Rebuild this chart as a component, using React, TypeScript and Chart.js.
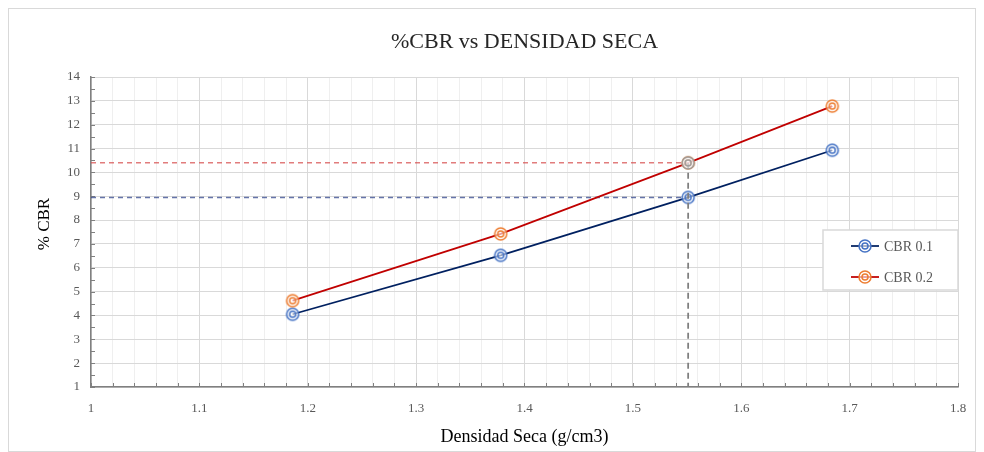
import React, { useEffect, useRef } from "react";
import { Chart, registerables } from "chart.js";

Chart.register(...registerables);

const density = [1.186, 1.378, 1.551, 1.684];
const cbr01 = [4.05, 6.52, 8.95, 10.93];
const cbr02 = [4.62, 7.42, 10.4, 12.78];
const refDensity = 1.551;
const refCbr01 = 8.95;
const refCbr02 = 10.4;
const seriesNames = ["CBR 0.1", "CBR 0.2"];
const titleText = "%CBR vs DENSIDAD SECA";
const xTitle = "Densidad Seca (g/cm3)";
const yTitle = "% CBR";
const xMin = 1, xMax = 1.8, xStep = 0.02;
const yMin = 1, yMax = 14;

const FONT = "'Liberation Serif', 'Times New Roman', serif";
const BLUE_LINE = "#002060";
const BLUE_MARK = "#4472c4";
const RED_LINE = "#c00000";
const ORANGE_MARK = "#ed7d31";
const GRAY_MARK = "#9a9a9a";

function makeMarker(color: string) {
  const c = document.createElement("canvas");
  c.width = 16;
  c.height = 16;
  const g = c.getContext("2d")!;
  g.strokeStyle = color;
  g.lineWidth = 1.5;
  g.fillStyle = "rgba(255,255,255,0.6)";
  g.beginPath();
  g.arc(8, 8, 6, 0, Math.PI * 2);
  g.fill();
  g.stroke();
  g.beginPath();
  g.arc(8, 8, 3, 0, Math.PI * 2);
  g.stroke();
  return c;
}

const isMajor = (v: number) => Math.abs(v * 10 - Math.round(v * 10)) < 1e-6;

export default function App() {
  const ref = useRef<HTMLCanvasElement | null>(null);
  useEffect(() => {
    const blueM = makeMarker(BLUE_MARK);
    const orangeM = makeMarker(ORANGE_MARK);
    const grayM = makeMarker(GRAY_MARK);

    const decor = {
      id: "decor",
      beforeDatasetsDraw(chart: any) {
        const { ctx, chartArea: a, scales } = chart;
        ctx.save();
        ctx.strokeStyle = "#808080";
        ctx.lineWidth = 1;
        const nx = Math.round((xMax - xMin) / xStep);
        for (let i = 0; i <= nx; i++) {
          const px = Math.round(scales.x.getPixelForValue(xMin + i * xStep)) + 0.5;
          ctx.beginPath();
          ctx.moveTo(px, a.bottom);
          ctx.lineTo(px, a.bottom - 4);
          ctx.stroke();
        }
        const ny = (yMax - yMin) * 2;
        for (let i = 0; i <= ny; i++) {
          const py = Math.round(scales.y.getPixelForValue(yMin + i * 0.5)) + 0.5;
          ctx.beginPath();
          ctx.moveTo(a.left, py);
          ctx.lineTo(a.left + 4, py);
          ctx.stroke();
        }
        ctx.restore();
      },
      afterDraw(chart: any) {
        const { ctx, chartArea: a } = chart;
        ctx.save();
        ctx.fillStyle = "#262626";
        ctx.font = `22px ${FONT}`;
        ctx.textAlign = "center";
        ctx.textBaseline = "middle";
        ctx.fillText(titleText, (a.left + a.right) / 2, 33);
        ctx.fillStyle = "#000";
        ctx.font = `18px ${FONT}`;
        ctx.fillText(xTitle, (a.left + a.right) / 2, 428);
        ctx.save();
        ctx.translate(36, 215);
        ctx.rotate(-Math.PI / 2);
        ctx.font = `17px ${FONT}`;
        ctx.fillText(yTitle, 0, 0);
        ctx.restore();
        const lx = a.right - 135;
        const ly = a.top + 153;
        ctx.fillStyle = "#fff";
        ctx.fillRect(lx, ly, 135, 60);
        ctx.strokeStyle = "#d9d9d9";
        ctx.lineWidth = 1.5;
        ctx.strokeRect(lx, ly, 135, 60);
        const items = [
          { name: seriesNames[0], line: BLUE_LINE, m: blueM, y: ly + 16 },
          { name: seriesNames[1], line: RED_LINE, m: orangeM, y: ly + 47 },
        ];
        items.forEach((it) => {
          ctx.strokeStyle = it.line;
          ctx.lineWidth = 1.75;
          ctx.beginPath();
          ctx.moveTo(lx + 28, it.y);
          ctx.lineTo(lx + 56, it.y);
          ctx.stroke();
          ctx.drawImage(it.m, lx + 42 - 8, it.y - 8);
          ctx.fillStyle = "#595959";
          ctx.font = `14px ${FONT}`;
          ctx.textAlign = "left";
          ctx.textBaseline = "middle";
          ctx.fillText(it.name, lx + 61, it.y + 1);
        });
        ctx.restore();
      },
    };

    const chart = new Chart(ref.current!, {
      type: "scatter",
      data: {
        datasets: [
          {
            label: "ref-vertical",
            data: [
              { x: refDensity, y: refCbr02 },
              { x: refDensity, y: yMin },
            ],
            showLine: true,
            borderColor: "#7f7f7f",
            borderWidth: 1.75,
            borderDash: [6, 4],
            pointStyle: grayM as any,
            pointRadius: [6, 0],
            order: -1,
          },
          {
            label: "ref-02",
            data: [
              { x: xMin, y: refCbr02 },
              { x: refDensity, y: refCbr02 },
            ],
            showLine: true,
            borderColor: "rgba(215,80,80,0.75)",
            borderWidth: 1.5,
            borderDash: [5, 4],
            pointRadius: 0,
            order: 3,
          },
          {
            label: "ref-01",
            data: [
              { x: xMin, y: refCbr01 },
              { x: refDensity, y: refCbr01 },
            ],
            showLine: true,
            borderColor: "rgba(50,70,140,0.75)",
            borderWidth: 1.5,
            borderDash: [5, 4],
            pointRadius: 0,
            order: 3,
          },
          {
            label: seriesNames[1],
            data: density.map((x, i) => ({ x, y: cbr02[i] })),
            showLine: true,
            borderColor: RED_LINE,
            borderWidth: 1.75,
            pointStyle: orangeM as any,
            pointRadius: 6,
            order: 1,
          },
          {
            label: seriesNames[0],
            data: density.map((x, i) => ({ x, y: cbr01[i] })),
            showLine: true,
            borderColor: BLUE_LINE,
            borderWidth: 1.75,
            pointStyle: blueM as any,
            pointRadius: 6,
            order: 1,
          },
        ],
      },
      options: {
        responsive: false,
        animation: false,
        events: [],
        layout: { padding: { left: 0, top: 68, right: 17, bottom: 0 } },
        plugins: {
          legend: { display: false },
          title: { display: false },
          tooltip: { enabled: false },
        },
        scales: {
          x: {
            type: "linear",
            min: xMin,
            max: xMax,
            afterFit: (s: any) => {
              s.height = 64;
              s.paddingLeft = 0;
              s.paddingRight = 0;
            },
            ticks: {
              stepSize: xStep,
              autoSkip: false,
              maxRotation: 0,
              padding: 14,
              color: "#595959",
              font: { family: FONT, size: 13 },
              callback: (v: any) => (isMajor(Number(v)) ? String(Math.round(Number(v) * 10) / 10) : ""),
            },
            grid: {
              drawTicks: false,
              color: (c: any) => (isMajor(c.tick.value) ? "#d9d9d9" : "#efefef"),
              lineWidth: 1,
            },
            border: { display: true, color: "#808080", width: 1.5 },
          },
          y: {
            type: "linear",
            min: yMin,
            max: yMax,
            afterFit: (s: any) => {
              s.width = 82;
              s.paddingTop = 0;
              s.paddingBottom = 0;
            },
            ticks: {
              stepSize: 1,
              padding: 11,
              color: "#595959",
              font: { family: FONT, size: 13 },
            },
            grid: { drawTicks: false, color: "#d9d9d9", lineWidth: 1 },
            border: { display: true, color: "#808080", width: 1.5 },
          },
        },
      },
      plugins: [decor],
    });
    return () => chart.destroy();
  }, []);

  return (
    <div style={{ width: 968, height: 444, border: "1px solid #d9d9d9", boxSizing: "border-box", background: "#fff" }}>
      <canvas ref={ref} width={966} height={442} style={{ display: "block", width: 966, height: 442 }} />
    </div>
  );
}
